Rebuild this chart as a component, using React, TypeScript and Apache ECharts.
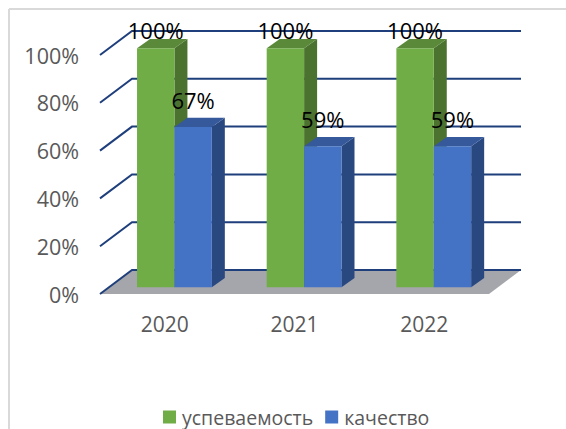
import React, { useEffect, useRef } from "react";
import * as echarts from "echarts";

const categories = ["2020", "2021", "2022"];
const uspevaemost = [100, 100, 100];
const kachestvo = [67, 59, 59];
const gridValues = [0, 20, 40, 60, 80, 100];
const FONT = "'Open Sans', sans-serif";

const WALL = { dx: 32, dy: -24 };
const BAR = { dx: 13, dy: -9.3, offX: 9.6, offY: -6.8, width: 37.4 };
const NAVY = "#1f3f7c";

function barItem(side: number, main: string, top: string, dark: string, labelGap: number) {
  return (params: any, api: any) => {
    const idx = api.value(0);
    const v = api.value(1);
    const c = api.coord([idx, v]);
    const base = api.coord([idx, 0]);
    const x0 = c[0] + BAR.offX + (side === 0 ? -BAR.width : 0);
    const x1 = x0 + BAR.width;
    const yT = c[1] + BAR.offY;
    const yB = base[1] + BAR.offY;
    return {
      type: "group",
      children: [
        {
          type: "polygon",
          shape: { points: [[x1, yT], [x1 + BAR.dx, yT + BAR.dy], [x1 + BAR.dx, yB + BAR.dy], [x1, yB]] },
          style: { fill: dark },
        },
        {
          type: "polygon",
          shape: { points: [[x0, yT], [x0 + BAR.dx, yT + BAR.dy], [x1 + BAR.dx, yT + BAR.dy], [x1, yT]] },
          style: { fill: top },
        },
        { type: "rect", shape: { x: x0, y: yT, width: BAR.width, height: yB - yT }, style: { fill: main } },
        {
          type: "text",
          z2: 100,
          style: {
            x: (x0 + x1) / 2,
            y: yT - labelGap,
            text: v + "%",
            fill: "#000000",
            font: "22px " + FONT,
            textAlign: "center",
            textVerticalAlign: "middle",
          },
        },
      ],
    };
  };
}

export default function App() {
  const ref = useRef<HTMLDivElement>(null);
  useEffect(() => {
    document.body.style.margin = "0";
    const chart = echarts.init(ref.current!, null, { renderer: "svg" });
    chart.setOption({
      animation: false,
      backgroundColor: "#ffffff",
      graphic: [
        { type: "line", shape: { x1: 9, y1: 9, x2: 566, y2: 9 }, style: { stroke: "#d9d9d9", lineWidth: 2 } },
        { type: "line", shape: { x1: 9, y1: 9, x2: 9, y2: 429 }, style: { stroke: "#d9d9d9", lineWidth: 2 } },
      ],
      grid: { left: 100, top: 55, width: 389, height: 239 },
      legend: {
        left: 158,
        top: 401,
        itemWidth: 13,
        itemHeight: 13,
        itemGap: 12,
        icon: "rect",
        data: ["успеваемость", "качество"],
        textStyle: { fontFamily: FONT, fontSize: 19.5, lineHeight: 22, color: "#595959", padding: [0, 0, 0, 1] },
      },
      xAxis: {
        type: "category",
        data: categories,
        axisLine: { show: false },
        axisTick: { show: false },
        axisLabel: { fontFamily: FONT, fontSize: 21, color: "#595959", margin: 19 },
      },
      yAxis: {
        type: "value",
        min: 0,
        max: 100,
        interval: 20,
        axisLine: { show: false },
        axisTick: { show: false },
        splitLine: { show: false },
        axisLabel: { fontFamily: FONT, fontSize: 21.5, color: "#595959", margin: 21, formatter: "{value}%" },
      },
      series: [
        {
          type: "custom",
          silent: true,
          z: 1,
          data: [[0, 0]],
          renderItem: (params: any, api: any) => {
            const a = api.coord([0, 0]);
            const band = (api.size([1, 0]) as number[])[0];
            const w = band * categories.length;
            const x0 = a[0] - band / 2;
            const y = a[1];
            return {
              type: "polygon",
              shape: { points: [[x0, y], [x0 + WALL.dx, y + WALL.dy], [x0 + w + WALL.dx, y + WALL.dy], [x0 + w, y]] },
              style: { fill: "#a5a6ab" },
            };
          },
        },
        {
          type: "custom",
          silent: true,
          z: 2,
          data: gridValues.map((v) => [0, v]),
          renderItem: (params: any, api: any) => {
            const a = api.coord([0, api.value(1)]);
            const band = (api.size([1, 0]) as number[])[0];
            const x0 = a[0] - band / 2;
            const y = a[1];
            return {
              type: "polyline",
              shape: { points: [[x0, y], [x0 + WALL.dx, y + WALL.dy], [x0 + band * categories.length + WALL.dx, y + WALL.dy]] },
              style: { fill: "none", stroke: NAVY, lineWidth: 2 },
            };
          },
        },
        {
          name: "успеваемость",
          type: "custom",
          z: 3,
          itemStyle: { color: "#70ad47" },
          data: uspevaemost.map((v, i) => [i, v]),
          encode: { x: 0, y: 1 },
          renderItem: barItem(0, "#70ad47", "#5a8a39", "#4b722f", 18),
        },
        {
          name: "качество",
          type: "custom",
          z: 4,
          itemStyle: { color: "#4472c4" },
          data: kachestvo.map((v, i) => [i, v]),
          encode: { x: 0, y: 1 },
          renderItem: barItem(1, "#4472c4", "#35599b", "#2a4880", 27),
        },
      ],
    });
    return () => chart.dispose();
  }, []);
  return <div ref={ref} style={{ width: 566, height: 429 }} />;
}
